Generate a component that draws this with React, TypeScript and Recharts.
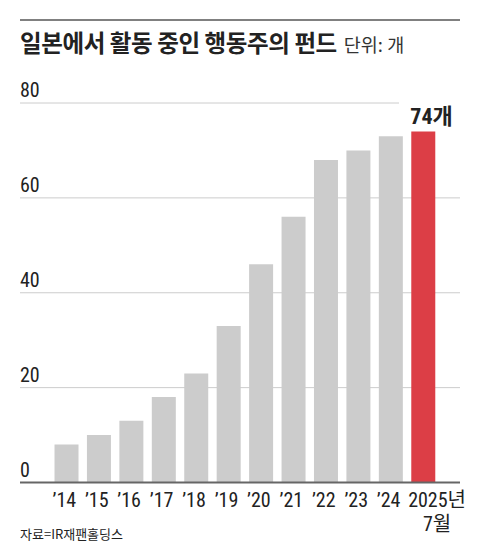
import React from "react";
import { BarChart, Bar, XAxis, YAxis, CartesianGrid, Cell, LabelList } from "recharts";

const years = ["’14", "’15", "’16", "’17", "’18", "’19", "’20", "’21", "’22", "’23", "’24", "2025년"];
const yearSubLabels = ["", "", "", "", "", "", "", "", "", "", "", "7월"];
const counts = [8, 10, 13, 18, 23, 33, 46, 56, 68, 70, 73, 74];
const yTicks = [0, 20, 40, 60, 80];
const highlightLabel = "74개";

const data = years.map((y, i) => ({ year: y, sub: yearSubLabels[i], count: counts[i] }));

const NARROW = "'Liberation Sans Narrow', 'Roboto Condensed', 'DejaVu Sans Condensed', 'Noto Sans CJK KR', sans-serif";
const KR = "'Noto Sans CJK KR', 'Noto Sans', sans-serif";

const GridLine = (p: any) => {
  const isTop = Math.abs(p.y1 - p.y) < 0.5;
  return (
    <line
      key={p.key}
      x1={p.x1}
      x2={isTop ? p.x2 - 61 : p.x2}
      y1={p.y1}
      y2={p.y2}
      stroke="#cccccc"
      strokeWidth={1}
    />
  );
};

const YTick = (p: any) => (
  <text x={20} y={p.y - 6} fill="#222" fontSize={20} fontFamily={NARROW} textAnchor="start">
    {p.payload.value}
  </text>
);

const XTick = (p: any) => {
  const idx = p.index;
  const last = idx === years.length - 1;
  const sub = yearSubLabels[idx];
  return (
    <g>
      <text
        x={last ? p.x + 14 : p.x - 2}
        y={507}
        fill="#222"
        fontSize={20}
        fontFamily={NARROW}
        textAnchor="middle"
      >
        {p.payload.value}
      </text>
      {sub ? (
        <text x={p.x + 14} y={531} fill="#222" fontSize={20} fontFamily={NARROW} textAnchor="middle">
          {sub}
        </text>
      ) : null}
    </g>
  );
};

const TopLabel = (p: any) => {
  if (p.index !== counts.length - 1) return null;
  return (
    <text x={p.x - 1} y={p.y - 7} fill="#222" fontSize={22} fontWeight={700} fontFamily={NARROW} textAnchor="start">
      {highlightLabel}
    </text>
  );
};

export default function App() {
  return (
    <div style={{ position: "absolute", left: 0, top: 0, width: 480, height: 560, background: "#fff", fontFamily: KR }}>
      <div style={{ position: "absolute", left: 20, top: 19, width: 440, height: 2, background: "#808080" }} />
      <div style={{ position: "absolute", left: 20, top: 25, whiteSpace: "nowrap", color: "#222" }}>
        <span style={{ fontSize: 23.5, fontWeight: 700, letterSpacing: -0.4 }}>일본에서 활동 중인 행동주의 펀드</span>
        <span style={{ fontSize: 18.5, color: "#333", marginLeft: 7 }}>단위: 개</span>
      </div>
      <div style={{ position: "absolute", left: 0, top: 0 }}>
        <BarChart
          width={480}
          height={560}
          data={data}
          margin={{ top: 103, right: 20, bottom: 47.5, left: 19 }}
          barCategoryGap="13.6%"
        >
          <CartesianGrid vertical={false} horizontal={GridLine as any} />
          <YAxis
            width={1}
            domain={[0, 80]}
            ticks={yTicks}
            axisLine={false}
            tickLine={false}
            tick={YTick as any}
          />
          <XAxis
            dataKey="year"
            height={30}
            padding={{ left: 30.1, right: 20.7 }}
            axisLine={{ stroke: "#666", strokeWidth: 2 }}
            tickLine={false}
            interval={0}
            tick={XTick as any}
          />
          <Bar dataKey="count" isAnimationActive={false}>
            {data.map((d, i) => (
              <Cell key={i} fill={i === data.length - 1 ? "#dc3e46" : "#cccccc"} />
            ))}
            <LabelList dataKey="count" content={TopLabel as any} />
          </Bar>
        </BarChart>
      </div>
      <div style={{ position: "absolute", left: 20, top: 524, fontSize: 13, color: "#222", whiteSpace: "nowrap" }}>
        자료=IR재팬홀딩스
      </div>
    </div>
  );
}
